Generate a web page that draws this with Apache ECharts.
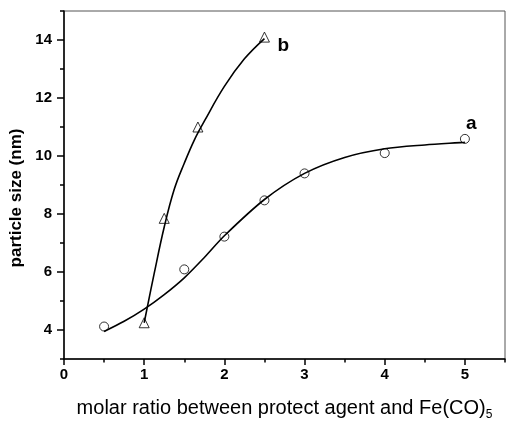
<!doctype html>
<html>
<head>
<meta charset="utf-8">
<title>particle size</title>
<script src="https://cdn.jsdelivr.net/npm/echarts@6/dist/echarts.min.js"></script>
<style>
html, body { margin: 0; padding: 0; background: #fff; }
#chart { width: 506px; height: 422px; }
</style>
</head>
<body>
<div id="chart"></div>
<script type="text/javascript">
// measured points
var aX = [0.5, 1.5, 2, 2.5, 3, 4, 5];
var aY = [4.12, 6.09, 7.22, 8.47, 9.40, 10.10, 10.59];
var bX = [1, 1.25, 1.67, 2.5];
var bY = [4.25, 7.85, 11.0, 14.1];
// fitted curves
var aFitX = [0.5, 0.75, 1, 1.25, 1.5, 1.75, 2, 2.5, 3, 3.5, 4, 4.5, 5];
var aFitY = [3.95, 4.3, 4.72, 5.22, 5.8, 6.5, 7.25, 8.5, 9.4, 9.95, 10.25, 10.38, 10.47];
var bFitX = [1, 1.125, 1.25, 1.375, 1.5, 1.625, 1.75, 2, 2.25, 2.5];
var bFitY = [4.25, 5.95, 7.55, 8.85, 9.75, 10.55, 11.2, 12.4, 13.35, 14.05];
// ticks
var xMajor = [0, 1, 2, 3, 4, 5];
var xMinor = [0.5, 1.5, 2.5, 3.5, 4.5, 5.5];
var yMajor = [4, 6, 8, 10, 12, 14];
var yMinor = [3, 5, 7, 9, 11, 13, 15];

function pairs(xs, ys) {
	var out = [];
	for (var i = 0; i < xs.length; i++) out.push([xs[i], ys[i]]);
	return out;
}

var fnt = 'Liberation Sans, Arial, sans-serif';
var chart = echarts.init(document.getElementById('chart'));
chart.setOption({
	animation: false,
	grid: {
		left: 64, right: 1, top: 11, bottom: 63,
		outerBoundsMode: 'none', containLabel: false,
		show: true, borderColor: '#555', borderWidth: 1
	},
	xAxis: [{
		type: 'value', min: 0, max: 5.5,
		name: '{t|molar ratio between protect agent and Fe(CO)}{s|5}',
		nameLocation: 'middle', nameGap: 36,
		nameTextStyle: {
			rich: {
				t: { fontFamily: fnt, fontSize: 20, color: '#000' },
				s: { fontFamily: fnt, fontSize: 12, color: '#000', padding: [14, 0, 0, 0] }
			}
		},
		axisLine: { lineStyle: { color: '#000', width: 1.5 } },
		axisTick: { customValues: xMajor, length: 6, lineStyle: { color: '#000', width: 1.5 } },
		axisLabel: { customValues: xMajor, margin: 8, fontFamily: fnt, fontSize: 15, fontWeight: 'bold', color: '#000' },
		splitLine: { show: false }
	}, {
		type: 'value', min: 0, max: 5.5, position: 'bottom',
		axisLine: { show: false },
		axisTick: { customValues: xMinor, length: 3.5, lineStyle: { color: '#000', width: 1.5 } },
		axisLabel: { show: false },
		splitLine: { show: false }
	}],
	yAxis: [{
		type: 'value', min: 3, max: 15,
		name: 'particle size (nm)',
		nameLocation: 'middle', nameGap: 38,
		nameTextStyle: { fontFamily: fnt, fontSize: 17, fontWeight: 'bold', color: '#000', padding: [0, 26, 0, 0] },
		axisLine: { show: true, lineStyle: { color: '#000', width: 1.5 } },
		axisTick: { show: true, customValues: yMajor, length: 7, lineStyle: { color: '#000', width: 1.5 } },
		axisLabel: { customValues: yMajor, margin: 12, fontFamily: fnt, fontSize: 15, fontWeight: 'bold', color: '#000' },
		splitLine: { show: false }
	}, {
		type: 'value', min: 3, max: 15, position: 'left',
		axisLine: { show: false },
		axisTick: { show: true, customValues: yMinor, length: 4, lineStyle: { color: '#000', width: 1.5 } },
		axisLabel: { show: false },
		splitLine: { show: false }
	}],
	series: [{
		type: 'line', data: pairs(aFitX, aFitY), smooth: 0.3, showSymbol: false,
		lineStyle: { color: '#000', width: 1.6 },
		endLabel: { show: true, formatter: 'a', offset: [-7, -19], fontFamily: fnt, fontSize: 19, fontWeight: 'bold', color: '#000' }
	}, {
		type: 'line', data: pairs(bFitX, bFitY), smooth: 0.4, showSymbol: false,
		lineStyle: { color: '#000', width: 1.6 },
		endLabel: { show: true, formatter: 'b', offset: [5, 7], fontFamily: fnt, fontSize: 19, fontWeight: 'bold', color: '#000' }
	}, {
		type: 'scatter', data: pairs(aX, aY), symbol: 'circle', symbolSize: 9,
		itemStyle: { color: '#fff', borderColor: '#000', borderWidth: 1 }
	}, {
		type: 'scatter', data: pairs(bX, bY), symbol: 'triangle', symbolSize: 10,
		itemStyle: { color: '#fff', borderColor: '#000', borderWidth: 1 }
	}]
});
</script>
</body>
</html>
